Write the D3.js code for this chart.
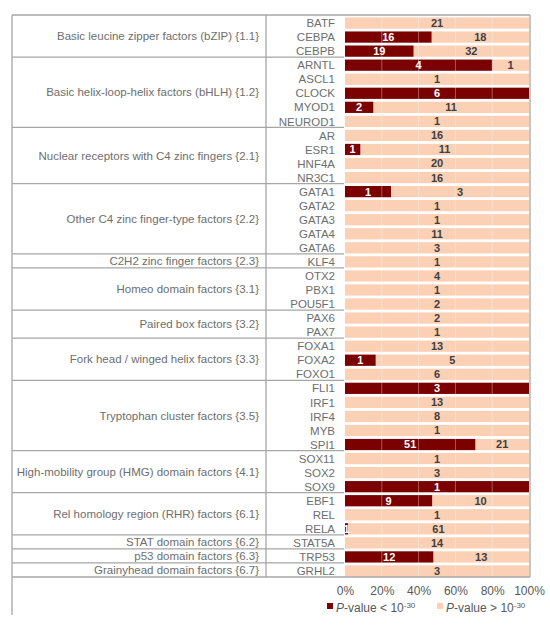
<!DOCTYPE html>
<html><head><meta charset="utf-8">
<script src="https://cdn.jsdelivr.net/npm/d3@7"></script>
<style>
html,body{margin:0;padding:0;background:#fff;}
svg{display:block;font-family:"Liberation Sans",Arial,sans-serif;}
</style></head>
<body>
<svg id="chart" width="550" height="629"></svg>
<script>
const familyNames = [
  "Basic leucine zipper factors (bZIP) {1.1}",
  "Basic helix-loop-helix factors (bHLH) {1.2}",
  "Nuclear receptors with C4 zinc fingers {2.1}",
  "Other C4 zinc finger-type factors {2.2}",
  "C2H2 zinc finger factors {2.3}",
  "Homeo domain factors {3.1}",
  "Paired box factors {3.2}",
  "Fork head / winged helix factors {3.3}",
  "Tryptophan cluster factors {3.5}",
  "High-mobility group (HMG) domain factors {4.1}",
  "Rel homology region (RHR) factors {6.1}",
  "STAT domain factors {6.2}",
  "p53 domain factors {6.3}",
  "Grainyhead domain factors {6.7}"
];
const familySizes = [3,5,4,5,1,3,2,3,5,3,3,1,1,1];
const genes = ["BATF","CEBPA","CEBPB","ARNTL","ASCL1","CLOCK","MYOD1","NEUROD1",
  "AR","ESR1","HNF4A","NR3C1","GATA1","GATA2","GATA3","GATA4","GATA6","KLF4",
  "OTX2","PBX1","POU5F1","PAX6","PAX7","FOXA1","FOXA2","FOXO1","FLI1","IRF1",
  "IRF4","MYB","SPI1","SOX11","SOX2","SOX9","EBF1","REL","RELA","STAT5A","TRP53","GRHL2"];
const sigCounts = [0,16,19,4,0,6,2,0,0,1,0,0,1,0,0,0,0,0,0,0,0,0,0,0,1,0,3,0,0,0,51,0,0,1,9,0,1,0,12,0];
const nonSigCounts = [21,18,32,1,1,0,11,1,16,11,20,16,3,1,1,11,3,1,4,1,2,2,1,13,5,6,0,13,8,1,21,1,3,0,10,1,61,14,13,3];
const tickValues = [0,0.2,0.4,0.6,0.8,1];
const tickLabels = ["0%","20%","40%","60%","80%","100%"];
const seriesNames = ["< ", "> "];

const darkRed = "#7b0000", peach = "#fbd0b5", lineCol = "#a6a6a6";
const svg = d3.select("#chart");

const x = d3.scaleLinear().domain([0,1]).range([345,529]);
const y = d3.scaleBand().domain(genes).range([16,578]).paddingInner(0.2).paddingOuter(0.1);
const step = y.step();
const rowTop = g => y(g) - y.paddingInner()*step/2;

const rows = genes.map((g,i)=>{
  const tot = sigCounts[i]+nonSigCounts[i];
  return {g, s:sigCounts[i], n:nonSigCounts[i], p: sigCounts[i]/tot};
});

// bars
const bars = svg.append("g");
bars.selectAll("rect.l").data(rows).join("rect")
  .attr("x", d=>x(d.p)).attr("width", d=>x(1)-x(d.p))
  .attr("y", d=>y(d.g)).attr("height", y.bandwidth()).attr("fill", peach);
bars.selectAll("rect.d").data(rows.filter(d=>d.s>0)).join("rect")
  .attr("x", x(0)).attr("width", d=>x(d.p)-x(0))
  .attr("y", d=>y(d.g)).attr("height", y.bandwidth()).attr("fill", darkRed);

// faint gridlines
svg.append("g").selectAll("line").data([0.2,0.4,0.6,0.8]).join("line")
  .attr("x1", d=>x(d)).attr("x2", d=>x(d)).attr("y1", 16).attr("y2", 577)
  .attr("stroke", "#ffffff").attr("stroke-opacity", 0.35).attr("stroke-width", 1);

// value labels
const lab = svg.append("g").attr("font-size", 11).attr("font-weight", "bold").attr("text-anchor","middle");
lab.selectAll("text.s").data(rows.filter(d=>d.s>0)).join("text")
  .attr("x", d=>(x(0)+x(d.p))/2).attr("y", d=>y(d.g)+y.bandwidth()/2).attr("dy","0.36em")
  .attr("fill","#ffffff").text(d=>d.s);
lab.selectAll("text.n").data(rows.filter(d=>d.n>0)).join("text")
  .attr("x", d=>(x(d.p)+x(1))/2).attr("y", d=>y(d.g)+y.bandwidth()/2).attr("dy","0.36em")
  .attr("fill","#404040").text(d=>d.n);

// gene labels
svg.append("g").attr("font-size", 11.5).attr("fill","#6e6e6e").attr("text-anchor","end")
  .selectAll("text").data(genes).join("text")
  .attr("x", 335).attr("y", d=>y(d)+y.bandwidth()/2).attr("dy","0.36em").text(d=>d);

// family labels and separators
let start = 0;
const fam = svg.append("g");
const tableBottom = rowTop(genes[genes.length-1]) + step - 1;
familyNames.forEach((name,k)=>{
  const first = genes[start], last = genes[start+familySizes[k]-1];
  const top = rowTop(first) - 1;
  const bottom = rowTop(last) + step - 1;
  fam.append("text").attr("x", 259).attr("y", (top+bottom)/2).attr("dy","0.36em")
    .attr("text-anchor","end").attr("font-size", 11.5).attr("fill","#6e6e6e").text(name);
  if (k < familyNames.length-1) {
    fam.append("line").attr("x1",12).attr("x2",344).attr("y1",bottom).attr("y2",bottom)
      .attr("stroke",lineCol).attr("stroke-width",1.3);
  }
  start += familySizes[k];
});
const tableTop = rowTop(genes[0]) - 1;
const frame = svg.append("g").attr("stroke", lineCol).attr("stroke-width", 1.3);
frame.append("line").attr("x1",12).attr("x2",530).attr("y1",tableTop).attr("y2",tableTop);
frame.append("line").attr("x1",12).attr("x2",530).attr("y1",tableBottom).attr("y2",tableBottom);
frame.append("line").attr("x1",12).attr("x2",12).attr("y1",tableTop).attr("y2",615);
frame.append("line").attr("x1",266).attr("x2",266).attr("y1",tableTop).attr("y2",tableBottom);
frame.append("line").attr("x1",530).attr("x2",530).attr("y1",tableTop).attr("y2",tableBottom);

// x axis
const ax = svg.append("g").attr("transform","translate(0,580)")
  .call(d3.axisBottom(x).tickValues(tickValues).tickFormat((d,i)=>tickLabels[i]).tickSize(0).tickPadding(6));
ax.select(".domain").remove();
ax.selectAll("text").attr("font-size", 12).attr("fill","#595959").attr("font-family","Liberation Sans, Arial, sans-serif");

// legend
const leg = svg.append("g").attr("font-size", 12).attr("fill","#595959");
const legItems = [{c:darkRed, x:327, t:seriesNames[0]},{c:peach, x:437, t:seriesNames[1]}];
legItems.forEach(it=>{
  leg.append("rect").attr("x", it.x).attr("y", 603).attr("width",6).attr("height",6).attr("fill", it.c);
  const t = leg.append("text").attr("x", it.x+9).attr("y", 612);
  t.append("tspan").attr("font-style","italic").text("P");
  t.append("tspan").text("-value " + it.t + "10");
  t.append("tspan").attr("font-size", 8).attr("dy", -4.5).text("-30");
});
</script>
</body></html>
